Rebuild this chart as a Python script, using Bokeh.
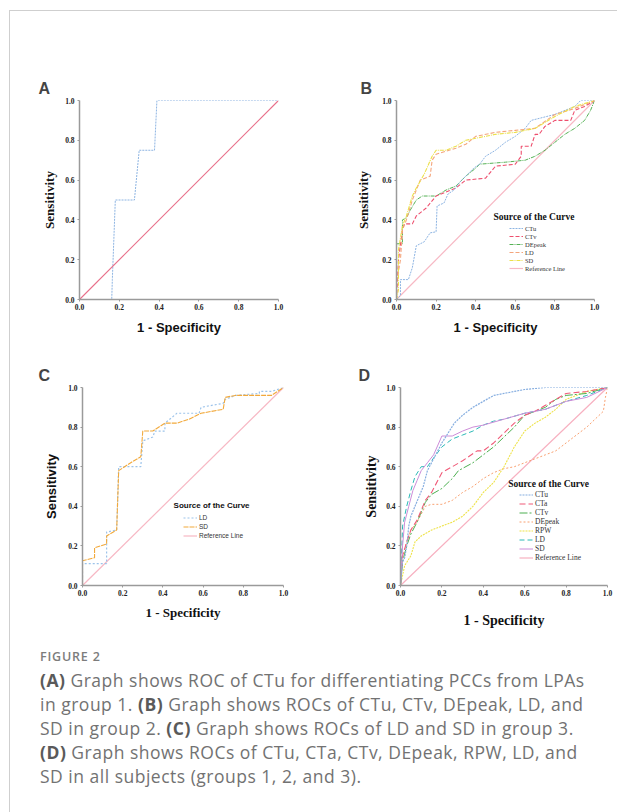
from bokeh.plotting import figure
from bokeh.layouts import column, row
from bokeh.models import (Div, Spacer, Legend, LegendItem, Label, Range1d,
                          FixedTicker, PrintfTickFormatter)
from bokeh.embed import file_html
from bokeh.resources import INLINE

# ---------------- data ----------------
TICKS = [0.0, 0.2, 0.4, 0.6, 0.8, 1.0]
REF_X = [0.0, 1.0]
REF_Y = [0.0, 1.0]

# Panel A (group 1)
A_ctu_x = [0.0, 0.162, 0.165, 0.18, 0.276, 0.30, 0.377, 0.389, 1.0]
A_ctu_y = [0.0, 0.0, 0.1, 0.5, 0.5, 0.75, 0.75, 1.0, 1.0]

# Panel B (group 2)
B_ctu_x = [0.0, 0.02, 0.02, 0.06, 0.08, 0.10, 0.14, 0.17, 0.20, 0.205, 0.24, 0.26, 0.29, 0.32, 0.36,
           0.39, 0.42, 0.45, 0.50, 0.55, 0.60, 0.65, 0.68, 0.72, 0.80, 0.90, 0.93, 1.0]
B_ctu_y = [0.0, 0.02, 0.10, 0.10, 0.16, 0.27, 0.29, 0.335, 0.34, 0.47, 0.485, 0.53, 0.55, 0.59, 0.63,
           0.66, 0.68, 0.72, 0.75, 0.79, 0.82, 0.86, 0.90, 0.91, 0.93, 0.97, 1.0, 1.0]
B_ctv_x = [0.0, 0.01, 0.03, 0.04, 0.08, 0.10, 0.15, 0.20, 0.25, 0.30, 0.35, 0.45, 0.50, 0.60, 0.63,
           0.63, 0.68, 0.70, 0.72, 0.75, 0.80, 0.88, 0.90, 0.95, 1.0]
B_ctv_y = [0.0, 0.20, 0.35, 0.38, 0.38, 0.42, 0.46, 0.52, 0.54, 0.56, 0.60, 0.61, 0.67, 0.68, 0.72,
           0.77, 0.77, 0.83, 0.83, 0.87, 0.90, 0.90, 0.95, 0.97, 1.0]
B_dep_x = [0.0, 0.0, 0.03, 0.03, 0.05, 0.07, 0.10, 0.13, 0.20, 0.25, 0.30, 0.35, 0.40, 0.42, 0.55,
           0.65, 0.70, 0.75, 0.80, 0.85, 0.90, 0.95, 0.98, 1.0]
B_dep_y = [0.0, 0.28, 0.28, 0.40, 0.41, 0.45, 0.50, 0.52, 0.52, 0.55, 0.57, 0.62, 0.66, 0.68, 0.69,
           0.70, 0.72, 0.75, 0.79, 0.83, 0.86, 0.90, 0.95, 1.0]
B_ld_x = [0.0, 0.0, 0.02, 0.03, 0.05, 0.08, 0.12, 0.17, 0.18, 0.20, 0.30, 0.35, 0.40, 0.50, 0.60,
          0.70, 0.80, 0.90, 1.0]
B_ld_y = [0.0, 0.08, 0.20, 0.35, 0.40, 0.50, 0.60, 0.62, 0.70, 0.73, 0.76, 0.78, 0.82, 0.84, 0.85,
          0.86, 0.93, 0.96, 1.0]
B_sd_x = [0.0, 0.01, 0.01, 0.03, 0.05, 0.08, 0.10, 0.14, 0.18, 0.20, 0.25, 0.30, 0.35, 0.40, 0.50,
          0.60, 0.70, 0.80, 0.90, 1.0]
B_sd_y = [0.0, 0.05, 0.25, 0.37, 0.42, 0.52, 0.56, 0.63, 0.72, 0.75, 0.75, 0.77, 0.80, 0.81, 0.83,
          0.84, 0.86, 0.92, 0.97, 1.0]

# Panel C (group 3)
C_ld_x = [0.0, 0.0, 0.12, 0.12, 0.17, 0.18, 0.29, 0.30, 0.35, 0.36, 0.41, 0.41, 0.47, 0.58, 0.59,
          0.70, 0.71, 0.76, 0.88, 0.88, 0.94, 1.0]
C_ld_y = [0.0, 0.11, 0.11, 0.27, 0.28, 0.60, 0.60, 0.73, 0.75, 0.78, 0.78, 0.82, 0.87, 0.87, 0.90,
          0.92, 0.94, 0.96, 0.97, 0.98, 0.98, 1.0]
C_sd_x = [0.0, 0.0, 0.06, 0.06, 0.12, 0.12, 0.17, 0.18, 0.24, 0.29, 0.30, 0.35, 0.41, 0.47, 0.53,
          0.59, 0.70, 0.71, 0.76, 0.94, 1.0]
C_sd_y = [0.0, 0.125, 0.14, 0.19, 0.21, 0.25, 0.28, 0.58, 0.62, 0.65, 0.78, 0.78, 0.82, 0.82, 0.84,
          0.87, 0.89, 0.95, 0.96, 0.96, 1.0]

# Panel D (all subjects)
D_ctu_x = [0.0, 0.01, 0.02, 0.03, 0.04, 0.05, 0.07, 0.09, 0.11, 0.13, 0.15, 0.17, 0.20, 0.23, 0.26,
           0.30, 0.35, 0.40, 0.45, 0.50, 0.55, 0.60, 0.70, 1.0]
D_ctu_y = [0.0, 0.12, 0.14, 0.20, 0.30, 0.35, 0.40, 0.45, 0.50, 0.58, 0.62, 0.66, 0.72, 0.77, 0.82,
           0.86, 0.90, 0.93, 0.96, 0.97, 0.98, 0.99, 1.0, 1.0]
D_cta_x = [0.0, 0.01, 0.03, 0.05, 0.08, 0.10, 0.12, 0.15, 0.20, 0.25, 0.30, 0.37, 0.40, 0.45, 0.50,
           0.55, 0.60, 0.65, 0.70, 0.75, 0.80, 0.90, 1.0]
D_cta_y = [0.0, 0.15, 0.22, 0.28, 0.33, 0.38, 0.43, 0.47, 0.57, 0.60, 0.63, 0.68, 0.68, 0.72, 0.77,
           0.82, 0.86, 0.88, 0.91, 0.94, 0.97, 0.98, 1.0]
D_ctv_x = [0.0, 0.01, 0.03, 0.05, 0.08, 0.10, 0.12, 0.15, 0.20, 0.25, 0.28, 0.35, 0.40, 0.45, 0.50,
           0.55, 0.60, 0.70, 0.75, 0.80, 0.90, 1.0]
D_ctv_y = [0.0, 0.12, 0.20, 0.26, 0.32, 0.37, 0.42, 0.46, 0.49, 0.54, 0.58, 0.62, 0.66, 0.70, 0.75,
           0.80, 0.86, 0.90, 0.94, 0.96, 0.97, 1.0]
D_dep_x = [0.0, 0.01, 0.03, 0.05, 0.08, 0.10, 0.12, 0.15, 0.20, 0.25, 0.30, 0.35, 0.40, 0.45, 0.50,
           0.55, 0.60, 0.65, 0.70, 0.75, 0.80, 0.85, 0.90, 0.95, 0.98, 0.99, 1.0]
D_dep_y = [0.0, 0.14, 0.22, 0.28, 0.32, 0.36, 0.40, 0.41, 0.41, 0.43, 0.47, 0.50, 0.54, 0.57, 0.59,
           0.60, 0.62, 0.64, 0.66, 0.68, 0.72, 0.76, 0.80, 0.85, 0.88, 0.95, 1.0]
D_rpw_x = [0.0, 0.01, 0.02, 0.05, 0.07, 0.10, 0.15, 0.20, 0.25, 0.30, 0.35, 0.40, 0.45, 0.50, 0.55,
           0.60, 0.65, 0.70, 0.75, 0.80, 0.90, 1.0]
D_rpw_y = [0.0, 0.05, 0.10, 0.15, 0.22, 0.25, 0.28, 0.30, 0.32, 0.35, 0.40, 0.47, 0.52, 0.60, 0.70,
           0.78, 0.82, 0.85, 0.89, 0.94, 0.98, 1.0]
D_ld_x = [0.0, 0.01, 0.03, 0.05, 0.07, 0.10, 0.13, 0.15, 0.20, 0.25, 0.30, 0.35, 0.40, 0.45, 0.50,
          0.60, 0.70, 0.80, 0.90, 1.0]
D_ld_y = [0.0, 0.30, 0.40, 0.48, 0.55, 0.60, 0.60, 0.63, 0.70, 0.74, 0.76, 0.78, 0.81, 0.83, 0.84,
          0.87, 0.89, 0.93, 0.96, 1.0]
D_sd_x = [0.0, 0.01, 0.02, 0.04, 0.06, 0.08, 0.10, 0.13, 0.16, 0.20, 0.25, 0.30, 0.35, 0.40, 0.50,
          0.60, 0.70, 0.80, 0.90, 1.0]
D_sd_y = [0.0, 0.20, 0.32, 0.40, 0.48, 0.53, 0.58, 0.62, 0.66, 0.755, 0.755, 0.78, 0.80, 0.81, 0.84,
          0.87, 0.89, 0.93, 0.95, 1.0]

SERIF = "Liberation Serif"
SANS = "Liberation Sans"


def panel(width, height, bl, br, bt, bb, letter, letter_offset, xfont, xsize, yfont, ysize,
          xstand, ystand):
    p = figure(width=width, height=height, output_backend="svg", toolbar_location=None,
               x_range=Range1d(0, 1), y_range=Range1d(0, 1))
    p.min_border_left = bl
    p.min_border_right = br
    p.min_border_top = bt
    p.min_border_bottom = bb
    p.outline_line_color = None
    p.grid.visible = False
    p.background_fill_color = "white"
    p.border_fill_color = "white"
    p.title.text = letter
    p.title.text_font = SANS
    p.title.text_font_size = "16px"
    p.title.text_font_style = "bold"
    p.title.align = "left"
    p.title.offset = letter_offset
    p.title.standoff = 7
    for ax in (p.xaxis[0], p.yaxis[0]):
        ax.ticker = FixedTicker(ticks=TICKS)
        ax.formatter = PrintfTickFormatter(format="%.1f")
        ax.axis_line_color = "#9a9a9a"
        ax.axis_line_width = 1.5
        ax.major_tick_line_color = "#9a9a9a"
        ax.major_tick_out = 2
        ax.major_tick_in = 0
        ax.minor_tick_line_color = None
        ax.major_label_text_font = SERIF
        ax.major_label_text_font_style = "bold"
        ax.major_label_text_font_size = "7.5px"
        ax.major_label_text_color = "#222222"
        ax.axis_label_text_font_style = "bold"
        ax.axis_label_text_color = "#111111"
    p.xaxis[0].major_label_standoff = 2
    p.yaxis[0].major_label_standoff = 3
    p.xaxis[0].axis_label = "1 - Specificity"
    p.xaxis[0].axis_label_text_font = xfont
    p.xaxis[0].axis_label_text_font_size = xsize
    p.xaxis[0].axis_label_standoff = xstand
    p.yaxis[0].axis_label = "Sensitivity"
    p.yaxis[0].axis_label_text_font = yfont
    p.yaxis[0].axis_label_text_font_size = ysize
    p.yaxis[0].axis_label_standoff = ystand
    return p


def add_legend(p, items, loc, font, size, row_h, title, tx, ty, tfont, tsize):
    lg = Legend(items=[LegendItem(label=n, renderers=[r]) for n, r in items], location=loc)
    lg.label_text_font = font
    lg.label_text_font_size = size
    lg.label_text_color = "#333333"
    lg.label_height = row_h
    lg.glyph_height = row_h
    lg.glyph_width = 14
    lg.label_standoff = 2
    lg.spacing = 0
    lg.padding = 0
    lg.margin = 0
    lg.background_fill_alpha = 0
    lg.border_line_alpha = 0
    p.add_layout(lg)
    p.add_layout(Label(x=tx, y=ty, text=title, text_font=tfont, text_font_style="bold",
                       text_font_size=tsize, text_baseline="middle", text_color="#111111"))


# ---------------- Panel A ----------------
pA = panel(308, 334, 69, 40, 89, 46, "A", -41, SANS, "13px", SERIF, "13px", 7, 5)
pA.line(A_ctu_x, A_ctu_y, line_color="#8db4e2", line_width=1, line_dash="2 1")
pA.line(REF_X, REF_Y, line_color="#e8708a", line_width=1.1)

# ---------------- Panel B ----------------
pB = panel(299, 334, 78, 23, 88, 46, "B", -36, SANS, "13px", SERIF, "13px", 7, 8)
rB_ref = pB.line(REF_X, REF_Y, line_color="#f7b8c4", line_width=1.2)
rB_dep = pB.line(B_dep_x, B_dep_y, line_color="#55b155", line_width=1, line_dash="4 1 1 1")
rB_ctv = pB.line(B_ctv_x, B_ctv_y, line_color="#ee4f6e", line_width=1.1, line_dash="4 2")
rB_ctu = pB.line(B_ctu_x, B_ctu_y, line_color="#8db4e2", line_width=1, line_dash="2 1")
rB_ld = pB.line(B_ld_x, B_ld_y, line_color="#f4a57c", line_width=1.1, line_dash="4 2")
rB_sd = pB.line(B_sd_x, B_sd_y, line_color="#ece04a", line_width=1.1, line_dash="4 1 1 1")
add_legend(pB, [("CTu", rB_ctu), ("CTv", rB_ctv), ("DEpeak", rB_dep), ("LD", rB_ld),
                ("SD", rB_sd), ("Reference Line", rB_ref)],
           (113, 27), SERIF, "6.5px", 8, "Source of the Curve", 0.49, 0.415, SERIF, "9.5px")

# ---------------- Panel C ----------------
pC = panel(308, 295, 72, 35, 39, 55, "C", -44, SERIF, "13px", SANS, "13px", 6, 6)
rC_ref = pC.line(REF_X, REF_Y, line_color="#f7b8c4", line_width=1.2)
rC_ld = pC.line(C_ld_x, C_ld_y, line_color="#9cc3ea", line_width=1.2, line_dash="2 2")
rC_sd = pC.line(C_sd_x, C_sd_y, line_color="#f2a93b", line_width=1.1, line_dash="5 1")
add_legend(pC, [("LD", rC_ld), ("SD", rC_sd), ("Reference Line", rC_ref)],
           (101, 45), SANS, "6.5px", 9, "Source of the Curve", 0.453, 0.403, SANS, "8px")

# ---------------- Panel D ----------------
pD = panel(299, 295, 82, 10, 42, 47, "D", -42, SERIF, "14px", SERIF, "14px", 14, 4)
rD_ref = pD.line(REF_X, REF_Y, line_color="#f7b0c0", line_width=1.2)
rD_dep = pD.line(D_dep_x, D_dep_y, line_color="#f8a070", line_width=1, line_dash="2 2")
rD_rpw = pD.line(D_rpw_x, D_rpw_y, line_color="#eee34a", line_width=1.1, line_dash="2 1")
rD_ctv = pD.line(D_ctv_x, D_ctv_y, line_color="#4caf50", line_width=1, line_dash="8 2 2 2")
rD_cta = pD.line(D_cta_x, D_cta_y, line_color="#f05a78", line_width=1.1, line_dash="6 3")
rD_ld = pD.line(D_ld_x, D_ld_y, line_color="#2bb9b6", line_width=1, line_dash="5 3")
rD_sd = pD.line(D_sd_x, D_sd_y, line_color="#cc8cd8", line_width=1)
rD_ctu = pD.line(D_ctu_x, D_ctu_y, line_color="#86aee0", line_width=1.2, line_dash="2 1")
add_legend(pD, [("CTu", rD_ctu), ("CTa", rD_cta), ("CTv", rD_ctv), ("DEpeak", rD_dep),
                ("RPW", rD_rpw), ("LD", rD_ld), ("SD", rD_sd), ("Reference Line", rD_ref)],
           (119, 23), SERIF, "7.5px", 9, "Source of the Curve", 0.52, 0.515, SERIF, "9.5px")

# ---------------- caption ----------------
caption_html = (
    "<div style=\"font-family:'Open Sans',sans-serif;color:#727272;padding-left:30px;white-space:nowrap;\">"
    "<div style=\"font-size:12.5px;line-height:16px;margin-top:9px;color:#7c7c7c;font-weight:600;"
    "letter-spacing:0.8px;\">FIGURE 2</div>"
    "<div style=\"font-size:17.5px;line-height:24px;margin-top:3px;letter-spacing:0.5px;\">"
    "<b style=\"color:#5a5a5a\">(A)</b> Graph shows ROC of CTu for differentiating PCCs from LPAs<br>"
    "in group 1. <b style=\"color:#5a5a5a\">(B)</b> Graph shows ROCs of CTu, CTv, DEpeak, LD, and<br>"
    "SD in group 2. <b style=\"color:#5a5a5a\">(C)</b> Graph shows ROCs of LD and SD in group 3.<br>"
    "<b style=\"color:#5a5a5a\">(D)</b> Graph shows ROCs of CTu, CTa, CTv, DEpeak, RPW, LD, and<br>"
    "SD in all subjects (groups 1, 2, and 3)."
    "</div></div>"
)
caption = Div(text=caption_html, width=607, height=170, margin=0)

top_line = Div(text="", width=608, height=1, margin=0, styles={"background-color": "#cfcfcf"})
left_line = Div(text="", width=1, height=801, margin=0, styles={"background-color": "#cfcfcf"})

content = column(row(pA, pB), row(pC, pD), caption)
layout = column(
    Spacer(width=617, height=10, margin=0),
    row(Spacer(width=9, height=1, margin=0), top_line),
    row(Spacer(width=9, height=10, margin=0), left_line, content),
)

with open("out.html", "w") as f:
    f.write(file_html(layout, INLINE))
